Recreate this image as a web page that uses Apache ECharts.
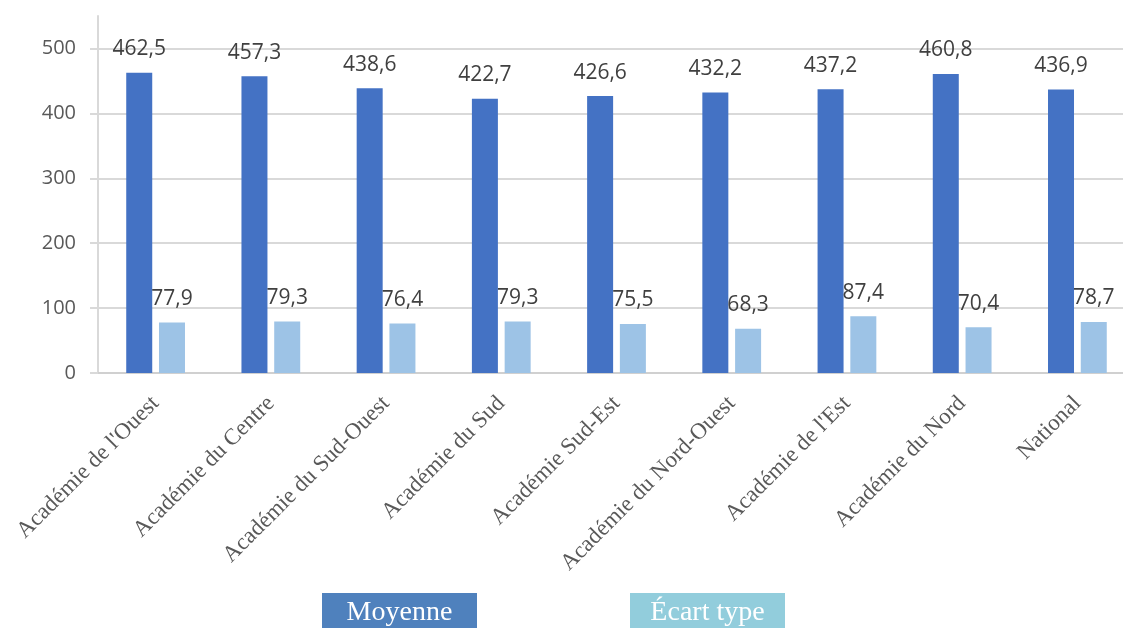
<!DOCTYPE html>
<html>
<head>
<meta charset="utf-8">
<script src="https://cdn.jsdelivr.net/npm/echarts@6/dist/echarts.min.js"></script>
<style>
  html, body { margin: 0; padding: 0; background: #ffffff; overflow: hidden; }
  #chart { width: 1123px; height: 628px; }
</style>
</head>
<body>
<div id="chart"></div>
<script>
// Scores by académie: mean and standard deviation
const categories = [
  "Académie de l'Ouest", "Académie du Centre", "Académie du Sud-Ouest",
  "Académie du Sud", "Académie Sud-Est", "Académie du Nord-Ouest",
  "Académie de l'Est", "Académie du Nord", "National"
];
const moyenne = [462.5, 457.3, 438.6, 422.7, 426.6, 432.2, 437.2, 460.8, 436.9];
const ecartType = [77.9, 79.3, 76.4, 79.3, 75.5, 68.3, 87.4, 70.4, 78.7];
const legendNames = ["Moyenne", "Écart type"];

const fmt = v => v.toFixed(1).replace('.', ',');

const labelStyle = {
  show: true,
  position: 'top',
  distance: 13,
  color: '#404040',
  fontFamily: 'Open Sans',
  fontSize: 21,
  formatter: p => fmt(p.value)
};

const chart = echarts.init(document.getElementById('chart'), null, { renderer: 'canvas' });

chart.setOption({
  animation: false,
  backgroundColor: '#ffffff',
  // the plot area runs slightly past the right edge of the canvas
  grid: { left: 98, width: 1037, top: 16, bottom: 255, containLabel: false, outerBoundsMode: 'none' },
  xAxis: {
    type: 'category',
    data: categories,
    axisLine: { show: true, lineStyle: { color: '#d0d0d0', width: 2 } },
    axisTick: { show: false },
    axisLabel: {
      rotate: 45,
      margin: 27,
      interval: 0,
      color: '#595959',
      fontFamily: 'Liberation Serif',
      fontSize: 23
    }
  },
  yAxis: {
    type: 'value',
    min: 0,
    max: 550,
    interval: 100,
    axisLine: { show: true, lineStyle: { color: '#d9d9d9', width: 2 } },
    axisTick: { show: true, inside: false, length: 8, lineStyle: { color: '#d9d9d9', width: 2 } },
    axisLabel: {
      margin: 22,
      color: '#595959',
      fontFamily: 'Open Sans',
      fontSize: 20,
      showMaxLabel: false,
      formatter: v => (v > 500 ? '' : String(v))
    },
    splitLine: { show: true, showMaxLine: false, lineStyle: { color: '#d9d9d9', width: 2 } }
  },
  series: [
    {
      name: legendNames[0],
      type: 'bar',
      data: moyenne,
      barWidth: 26,
      barGap: '26%',
      itemStyle: { color: '#4472C4' },
      label: labelStyle
    },
    {
      name: legendNames[1],
      type: 'bar',
      data: ecartType,
      barWidth: 26,
      barGap: '26%',
      itemStyle: { color: '#9DC3E6' },
      label: labelStyle
    }
  ],
  graphic: [
    {
      type: 'group',
      left: 322,
      top: 593,
      children: [
        { type: 'rect', shape: { x: 0, y: 0, width: 155, height: 40 }, style: { fill: '#4F81BD' } },
        { type: 'text', x: 77.5, y: 20, style: { text: legendNames[0], fill: '#ffffff', font: '28px "Liberation Serif"', align: 'center', verticalAlign: 'middle' } }
      ]
    },
    {
      type: 'group',
      left: 630,
      top: 593,
      children: [
        { type: 'rect', shape: { x: 0, y: 0, width: 155, height: 40 }, style: { fill: '#92CDDC' } },
        { type: 'text', x: 77.5, y: 20, style: { text: legendNames[1], fill: '#ffffff', font: '28px "Liberation Serif"', align: 'center', verticalAlign: 'middle' } }
      ]
    }
  ]
});
</script>
</body>
</html>
